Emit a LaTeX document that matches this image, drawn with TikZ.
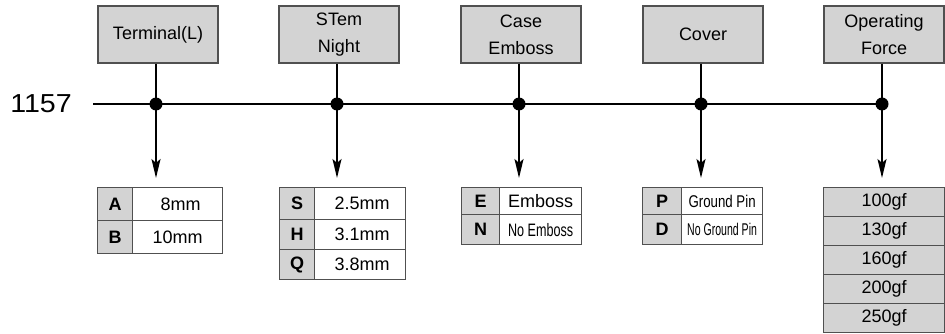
\documentclass[tikz,border=0pt]{standalone}
\usepackage{fontspec}
\setmainfont{Liberation Sans}
\usetikzlibrary{arrows.meta}
\definecolor{boxfill}{HTML}{D3D3D3}
\definecolor{boxline}{HTML}{505050}
\begin{document}
\begin{tikzpicture}[x=1pt,y=-1pt,
 topbox/.style={draw=boxline, fill=boxfill, line width=1.2pt, minimum width=120pt, minimum height=57pt, inner sep=0pt, align=center, font=\fontsize{18}{27}\selectfont},
 cellbase/.style={draw=boxline, line width=1.2pt, inner sep=0pt, anchor=north west},
 keycell/.style={cellbase, fill=boxfill, font=\fontsize{18}{20}\selectfont\bfseries},
 valcell/.style={cellbase, fill=white, font=\fontsize{18}{20}\selectfont},
 forcecell/.style={cellbase, fill=boxfill, minimum width=121pt, minimum height=29pt, font=\fontsize{18}{20}\selectfont},
 conn/.style={line width=2pt},
 arr/.style={line width=2pt, -{Stealth[length=19pt,width=9pt,inset=4pt]}},
 dot/.style={circle, fill=black, inner sep=0pt, minimum size=13pt}]
\useasboundingbox (0,0) rectangle (945,334);

% top boxes
\node[topbox] (t1) at (158,34.5) {Terminal(L)};
\node[topbox] (t2) at (339,34.5) {STem\\Night};
\node[topbox] (t3) at (521,34.5) {Case\\Emboss};
\node[topbox] (t4) at (703,34.5) {Cover};
\node[topbox] (t5) at (884,34.5) {Operating\\Force};

% label
\node[anchor=east, inner sep=0pt, font=\fontsize{26}{28}\selectfont] (lbl) at (72,104) {\scalebox{1.1}[1]{1157}};

% dots
\node[dot] (d1) at (156,104) {};
\node[dot] (d2) at (337,104) {};
\node[dot] (d3) at (519,104) {};
\node[dot] (d4) at (701,104) {};
\node[dot] (d5) at (882,104) {};

\coordinate (start) at (93,104);
\coordinate (e1) at (156,178);
\coordinate (e2) at (337,178);
\coordinate (e3) at (519,178);
\coordinate (e4) at (701,178);
\coordinate (e5) at (882,178);

\draw[conn] (start) -- (d5.center);
\foreach \i in {1,...,5} {
  \draw[conn] (t\i.south -| d\i) -- (d\i.center);
  \draw[arr] (d\i.center) -- (e\i);
}

% table A
\node[keycell, minimum width=35pt, minimum height=33pt] (a1k) at (97,187) {A};
\node[valcell, minimum width=90pt, minimum height=33pt] (a1v) at (132,187) {\hspace{6pt}8mm};
\node[keycell, minimum width=35pt, minimum height=33pt] (a2k) at (97,220) {B};
\node[valcell, minimum width=90pt, minimum height=33pt] (a2v) at (132,220) {10mm\hspace{6pt}};

% table S
\node[keycell, minimum width=35pt, minimum height=32pt] (s1k) at (279,187) {S};
\node[valcell, minimum width=91pt, minimum height=32pt] (s1v) at (314,187) {\hspace{4pt}2.5mm};
\node[keycell, minimum width=35pt, minimum height=30pt] (s2k) at (279,219) {H};
\node[valcell, minimum width=91pt, minimum height=30pt] (s2v) at (314,219) {\hspace{4pt}3.1mm};
\node[keycell, minimum width=35pt, minimum height=30pt] (s3k) at (279,249) {Q};
\node[valcell, minimum width=91pt, minimum height=30pt] (s3v) at (314,249) {\hspace{4pt}3.8mm};

% table E
\node[keycell, minimum width=38pt, minimum height=27pt] (c1k) at (461,187) {E};
\node[valcell, minimum width=82pt, minimum height=27pt] (c1v) at (499,187) {Emboss};
\node[keycell, minimum width=38pt, minimum height=30pt] (c2k) at (461,214) {N};
\node[valcell, minimum width=82pt, minimum height=30pt] (c2v) at (499,214) {\scalebox{0.7}[1]{No Emboss}};

% table P
\node[keycell, minimum width=39pt, minimum height=27pt] (p1k) at (642,187) {P};
\node[valcell, minimum width=81pt, minimum height=27pt, font=\fontsize{17}{19}\selectfont] (p1v) at (681,187) {\scalebox{0.78}[1]{Ground Pin}};
\node[keycell, minimum width=39pt, minimum height=30pt] (p2k) at (642,214) {D};
\node[valcell, minimum width=81pt, minimum height=30pt, font=\fontsize{17}{19}\selectfont] (p2v) at (681,214) {\scalebox{0.62}[1]{No Ground Pin}};

% table force
\node[forcecell] (f1) at (823,187) {100gf};
\node[forcecell] (f2) at (823,216) {130gf};
\node[forcecell] (f3) at (823,245) {160gf};
\node[forcecell] (f4) at (823,274) {200gf};
\node[forcecell] (f5) at (823,303) {250gf};
\end{tikzpicture}
\end{document}
